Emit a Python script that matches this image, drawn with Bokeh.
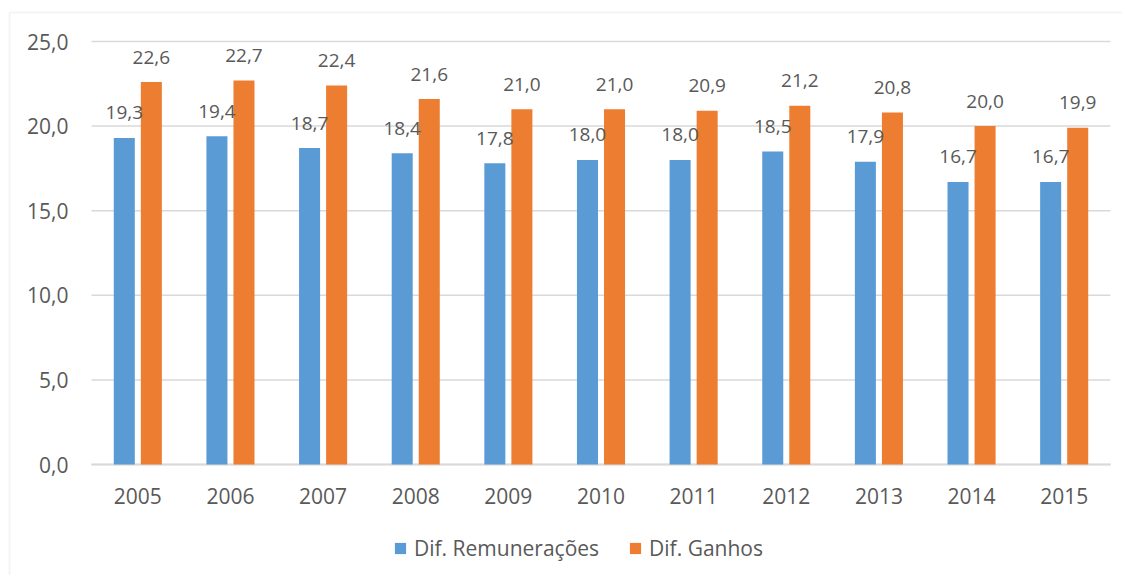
from bokeh.plotting import figure
from bokeh.models import (ColumnDataSource, Range1d, Legend, LegendItem, CustomJSTickFormatter,
                          FixedTicker, BoxAnnotation)
from bokeh.transform import dodge
from bokeh.core.properties import value
from bokeh.embed import file_html
from bokeh.resources import INLINE

years = ["2005", "2006", "2007", "2008", "2009", "2010", "2011", "2012", "2013", "2014", "2015"]
remuneracoes = [19.3, 19.4, 18.7, 18.4, 17.8, 18.0, 18.0, 18.5, 17.9, 16.7, 16.7]
ganhos = [22.6, 22.7, 22.4, 21.6, 21.0, 21.0, 20.9, 21.2, 20.8, 20.0, 19.9]
series_names = ["Dif. Remunerações", "Dif. Ganhos"]
y_ticks = [0, 5, 10, 15, 20, 25]

BLUE = "#5b9bd5"
ORANGE = "#ed7d31"
TEXT = "#595959"
GRID = "#d9d9d9"
FONT = "Open Sans"

def fmt(v):
    return f"{v:.1f}".replace(".", ",")

idx = list(range(len(years)))
n = len(years)
src = ColumnDataSource(dict(
    idx=idx,
    rem=remuneracoes,
    gan=ganhos,
    rem_lbl=[fmt(v) for v in remuneracoes],
    gan_lbl=[fmt(v) for v in ganhos],
))
grid_src = ColumnDataSource(dict(
    y=y_ticks,
    x_start=[-0.5] * len(y_ticks),
    x_end=[n - 0.5] * len(y_ticks),
))

# ---- layout geometry (pixels on the canvas) ----
W, H = 1122, 575
PLOT_L, PLOT_R = 91, 1110      # plot area left/right
PLOT_T, PLOT_B = 41, 464       # y=25 and y=0
px_x = (PLOT_R - PLOT_L) / n
px_y = (PLOT_B - PLOT_T) / 25.0
x0 = -0.5 - PLOT_L / px_x
x1 = -0.5 + (W - PLOT_L) / px_x
y1 = 25 + PLOT_T / px_y
y0 = 25 - (H - PLOT_T) / px_y

p = figure(
    x_range=Range1d(x0, x1), y_range=Range1d(y0, y1),
    width=W, height=H,
    output_backend="svg", toolbar_location=None,
    min_border_left=0, min_border_right=0, min_border_top=0, min_border_bottom=0,
)
p.outline_line_color = None
p.background_fill_color = "white"
p.border_fill_color = "white"

# chart outer border (left and top edges visible)
p.add_layout(BoxAnnotation(
    left=x0 + 9 / px_x, right=x1 + 50, top=y1 - 12 / px_y, bottom=y0 - 50,
    fill_alpha=0, line_color=GRID, line_width=2, level="overlay"))

# horizontal gridlines limited to the plot area
p.segment(x0="x_start", x1="x_end", y0="y", y1="y", source=grid_src,
          line_color=GRID, line_width=1.5)
# category axis line at 0
p.segment(x0=[-0.5], x1=[n - 0.5], y0=[0], y1=[0], line_color=GRID, line_width=2)

off = 0.146
bw = 0.227
r1 = p.vbar(x=dodge("idx", -off), top="rem", width=bw, bottom=0,
            source=src, fill_color=BLUE, line_color=None)
r2 = p.vbar(x=dodge("idx", off), top="gan", width=bw, bottom=0,
            source=src, fill_color=ORANGE, line_color=None)

p.text(x=dodge("idx", -off), y="rem", text="rem_lbl", source=src,
       text_align="center", text_baseline="alphabetic", y_offset=-25,
       text_font=value(FONT), text_font_size="19px", text_color=TEXT)
p.text(x=dodge("idx", off), y="gan", text="gan_lbl", source=src,
       text_align="center", text_baseline="alphabetic", y_offset=-25,
       text_font=value(FONT), text_font_size="19px", text_color=TEXT)

# y axis, drawn at the left edge of the plot area
p.yaxis.fixed_location = -0.5
p.yaxis.ticker = FixedTicker(ticks=y_ticks)
p.yaxis.formatter = CustomJSTickFormatter(code="return tick.toFixed(1).replace('.', ',');")
p.yaxis.axis_line_color = None
p.yaxis.major_tick_line_color = None
p.yaxis.minor_tick_line_color = None
p.yaxis.major_label_standoff = 17
p.yaxis.major_label_text_font = FONT
p.yaxis.major_label_text_font_size = "21px"
p.yaxis.major_label_text_color = TEXT

# x axis at y = 0
p.xaxis.fixed_location = 0
p.xaxis.ticker = FixedTicker(ticks=idx)
p.xaxis.major_label_overrides = {i: y for i, y in zip(idx, years)}
p.xaxis.axis_line_color = None
p.xaxis.major_tick_line_color = None
p.xaxis.minor_tick_line_color = None
p.xaxis.major_label_standoff = 17
p.xaxis.major_label_text_font = FONT
p.xaxis.major_label_text_font_size = "21px"
p.xaxis.major_label_text_color = TEXT

p.xgrid.grid_line_color = None
p.ygrid.grid_line_color = None

legend = Legend(
    items=[LegendItem(label=series_names[0], renderers=[r1]),
           LegendItem(label=series_names[1], renderers=[r2])],
    orientation="horizontal",
    location=(393, 13),
    glyph_width=14, glyph_height=14,
    label_standoff=7, spacing=29, padding=0, margin=0,
    border_line_color=None, background_fill_alpha=0,
    label_text_font=FONT, label_text_font_size="21px", label_text_color=TEXT,
)
p.add_layout(legend, "center")

open("out.html", "w").write(file_html(p, INLINE))
